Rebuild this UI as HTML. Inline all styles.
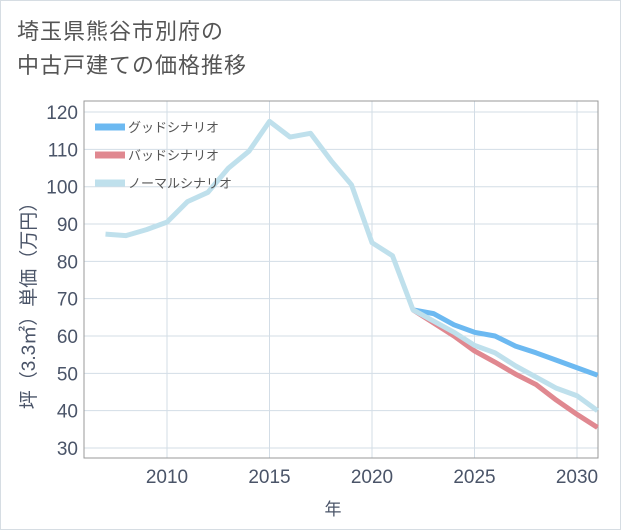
<!DOCTYPE html>
<html><head><meta charset="utf-8">
<style>
body{margin:0;background:#fff;}
#wrap{position:relative;width:619px;height:528px;border:1px solid #d6dde3;background:#fff;font-family:"Liberation Sans","Noto Sans CJK JP",sans-serif;}
#title{position:absolute;left:16px;top:14px;font-size:22px;line-height:34px;color:#555;letter-spacing:1px;}
svg{position:absolute;left:0;top:0;}
</style></head><body>
<div id="wrap">
<div id="title">埼玉県熊谷市別府の<br>中古戸建ての価格推移</div>
<svg id="chart" width="621" height="530"></svg>
</div>
<script>
const years=[2007,2008,2009,2010,2011,2012,2013,2014,2015,2016,2017,2018,2019,2020,2021,2022,2023,2024,2025,2026,2027,2028,2029,2030,2031];
const normal=[87.3,86.9,88.5,90.5,96,98.5,105,109.5,117.5,113.3,114.3,107,100.5,85,81.5,67,64,61,57.5,55.5,52,49,46,44,40];
const goodYears=[2022,2023,2024,2025,2026,2027,2028,2029,2030,2031];
const good=[67,66,63,61,60,57.3,55.5,53.5,51.5,49.5];
const bad=[67,63.5,60,56,53,49.8,47,42.8,39,35.5];
const yTicks=[30,40,50,60,70,80,90,100,110,120];
const xTicks=[2010,2015,2020,2025,2030];
const legendLabels=["グッドシナリオ","バッドシナリオ","ノーマルシナリオ"];
const NS="http://www.w3.org/2000/svg";
const svg=document.getElementById('chart');
const L=83,R=597,T=100,B=457;
const X=v=>166+(v-2010)*20.5;
const Y=v=>447-(v-30)*3.733;
function mk(t,a,p){const e=document.createElementNS(NS,t);for(const k in a)e.setAttribute(k,a[k]);(p||svg).appendChild(e);return e;}
const g=mk('g',{});


yTicks.forEach(v=>{const l=mk('line',{x1:L,x2:R,y1:Y(v),y2:Y(v),stroke:'#d3dde6','stroke-width':1},g);

const t=mk('text',{x:L-6,y:Y(v)+7,'text-anchor':'end','font-size':19,fill:'#4a5468'});t.textContent=v;
});
xTicks.forEach(v=>{const l=mk('line',{x1:X(v),x2:X(v),y1:T,y2:B,stroke:'#d3dde6','stroke-width':1},g);

const t=mk('text',{x:X(v),y:B+25,'text-anchor':'middle','font-size':19,fill:'#4a5468'});t.textContent=v;
});
const ax=mk('path',{d:`M${L} ${T}V${B}H${R}V${T}Z`,fill:'none',stroke:'#999','stroke-width':1});

function line(xs,ys,col,name){const p=mk('polyline',{points:xs.map((x,i)=>X(x)+','+Y(ys[i])).join(' '),fill:'none',stroke:col,'stroke-width':5,'stroke-linejoin':'round'});
}
line(goodYears,good,'#6cb9f1','good-scenario-line');
line(goodYears,bad,'#e08890','bad-scenario-line');
line(years,normal,'#bfe0ec','normal-scenario-line');
const cols=['#6cb9f1','#e08890','#bfe0ec'];
legendLabels.forEach((s,i)=>{const y=126+i*28;
const r=mk('rect',{x:94,y:y-3.5,width:30,height:7,fill:cols[i]});
const t=mk('text',{x:127,y:y+5,'font-size':13,fill:'#555'});t.textContent=s;});
const xt=mk('text',{x:332,y:514,'text-anchor':'middle','font-size':17,fill:'#4a5468'});xt.textContent='年';

const yt=mk('text',{x:0,y:0,'text-anchor':'middle','font-size':19,fill:'#4a5468',transform:'translate(34,300) rotate(-90)'});yt.textContent='坪（3.3㎡）単価（万円）';

</script>
</body></html>
